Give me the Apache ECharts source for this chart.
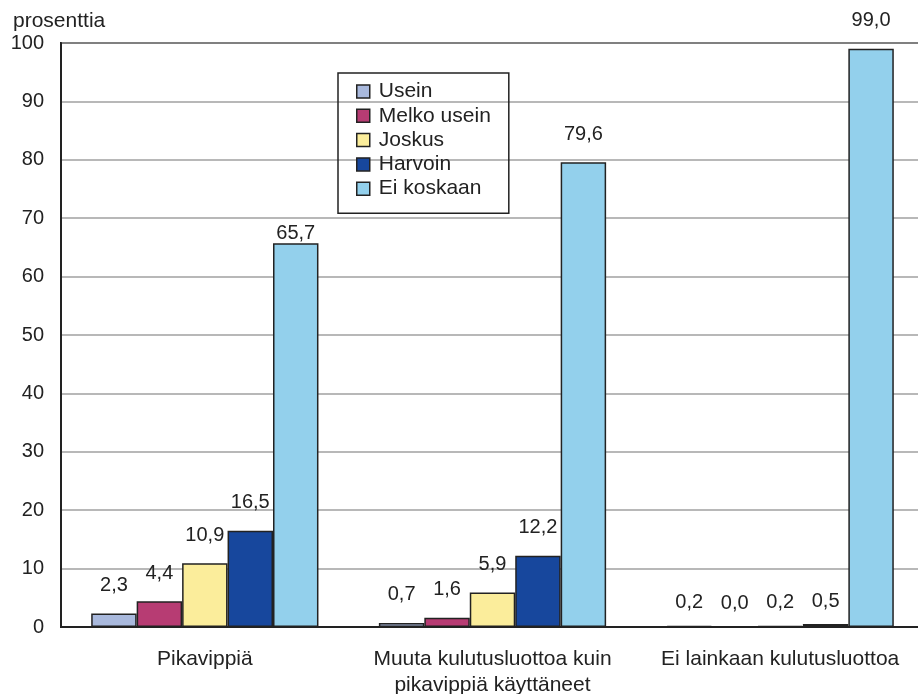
<!DOCTYPE html>
<html><head><meta charset="utf-8">
<script src="https://cdn.jsdelivr.net/npm/echarts@6/dist/echarts.min.js"></script>
<style>html,body{margin:0;padding:0;background:#fff}#c{width:918px;height:694px}</style>
</head><body><div id="c"></div>
<script>
const categories = ['Pikavippiä', 'Muuta kulutusluottoa kuin\npikavippiä käyttäneet', 'Ei lainkaan kulutusluottoa'];
const seriesNames = ['Usein', 'Melko usein', 'Joskus', 'Harvoin', 'Ei koskaan'];
const usein = [2.3, 0.7, 0.2];
const melkoUsein = [4.4, 1.6, 0.0];
const joskus = [10.9, 5.9, 0.2];
const harvoin = [16.5, 12.2, 0.5];
const eiKoskaan = [65.7, 79.6, 99.0];
const yTicks = [0, 10, 20, 30, 40, 50, 60, 70, 80, 90, 100];

const colors = ['#a9b9dd', '#b73c73', '#fbed9b', '#17479d', '#93d0ec'];
const values = [usein, melkoUsein, joskus, harvoin, eiKoskaan];
const fmt = v => v.toFixed(1).replace('.', ',');
const font = 'Liberation Sans, Arial, sans-serif';

const series = values.map((arr, si) => ({
  name: seriesNames[si],
  type: 'bar',
  barGap: '0%',
  barCategoryGap: '21%',
  itemStyle: { color: colors[si], borderColor: '#222', borderWidth: 1.5 },
  data: arr.map((v, ci) => ({
    value: v,
    label: { distance: (si === 4 && ci === 0) ? 0 : (ci === 2 && si < 4 ? 13 : 18) }
  })),
  label: {
    show: true, position: 'top', color: '#222', fontSize: 20, fontFamily: font,
    formatter: p => fmt(p.value)
  }
}));

const chart = echarts.init(document.getElementById('c'));
chart.setOption({
  animation: false,
  color: colors,
  title: { text: 'prosenttia', left: 8, top: 6,
    textStyle: { fontSize: 21, fontWeight: 'normal', color: '#222', fontFamily: font } },
  legend: {
    orient: 'vertical', left: 338, top: 73,
    data: seriesNames,
    icon: 'rect', itemWidth: 13, itemHeight: 13, itemGap: 3.3,
    borderColor: '#222', borderWidth: 1.5, padding: [8, 18, 14, 18],
    itemStyle: { borderColor: '#222', borderWidth: 1.5 },
    textStyle: { fontSize: 21, lineHeight: 21, color: '#222', fontFamily: font, padding: [0, 0, 0, 4] }
  },
  grid: { left: 61, right: -6, top: 43, bottom: 67, show: true, borderColor: '#222', borderWidth: 2,
    outerBoundsMode: 'none', containLabel: false },
  xAxis: {
    type: 'category', data: categories,
    axisLine: { lineStyle: { color: '#222', width: 2 } },
    axisTick: { show: false },
    axisLabel: { color: '#222', fontSize: 21, fontFamily: font, margin: 19, lineHeight: 26,
      interval: 0, hideOverlap: false }
  },
  yAxis: {
    type: 'value', min: yTicks[0], max: yTicks[yTicks.length - 1], interval: 10,
    axisLine: { show: true, lineStyle: { color: '#222', width: 2 } },
    axisTick: { show: false },
    axisLabel: { color: '#222', fontSize: 20, fontFamily: font, margin: 17 },
    splitLine: { lineStyle: { color: '#a0a0a0', width: 1.5 } }
  },
  series
});
</script></body></html>
